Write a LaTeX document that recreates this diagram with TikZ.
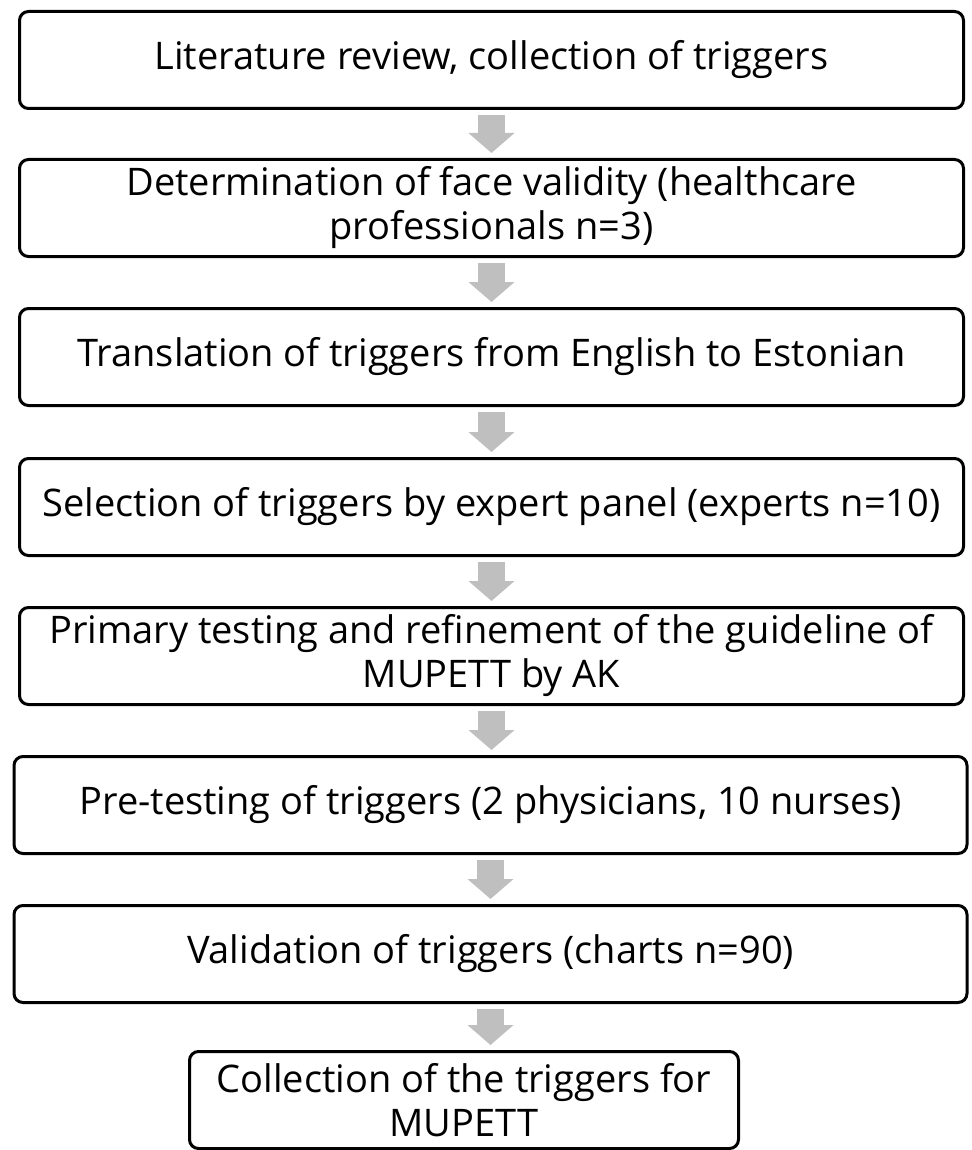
\documentclass[tikz,border=0pt]{standalone}
\usepackage{fontspec}
\setmainfont{Open Sans}
\usepackage{tikz}
\usetikzlibrary{arrows.meta}
\definecolor{flowgray}{RGB}{191,191,191}
\tikzstyle{stage}=[draw=black,line width=3pt,rounded corners=9pt,align=center,inner sep=0pt,minimum width=944pt,minimum height=97pt,font=\fontsize{38}{44}\selectfont]
\tikzstyle{flow}=[draw=flowgray,line width=27pt,-{Triangle[width=45pt,length=20pt]},shorten <=5pt,shorten >=5pt]

\begin{document}
\begin{tikzpicture}[x=1pt,y=-1pt]
      \useasboundingbox (0,0) rectangle (971,1150);
      \node[stage] at (491.5,60) (lit) {Literature review, collection of triggers};
      \node[stage] at (491.5,208) (face) {Determination of face validity (healthcare\\professionals n=3)};
      \node[stage] at (491.5,357) (transl) {Translation of triggers from English to Estonian};
      \node[stage] at (491.5,507) (panel) {Selection of triggers by expert panel (experts n=10)};
      \node[stage] at (491.5,656) (primary) {Primary testing and refinement of the guideline of\\MUPETT by AK};
      \node[stage,minimum width=953pt] at (490.5,805) (pretest) {Pre-testing of triggers (2 physicians, 10 nurses)};
      \node[stage,minimum width=953pt] at (490.5,954) (valid) {Validation of triggers (charts n=90)};
      \node[stage,minimum width=549pt] at (464,1100) (coll) {Collection of the triggers for\\MUPETT};
      \draw[flow] (lit.south)--(face.north);
      \draw[flow] (face.south)--(transl.north);
      \draw[flow] (transl.south)--(panel.north);
      \draw[flow] (panel.south)--(primary.north);
      \draw[flow] (primary.south)--(primary.south |- pretest.north);
      \draw[flow] (pretest.south)--(valid.north);
      \draw[flow] (valid.south)--(valid.south |- coll.north);
    \end{tikzpicture}
\end{document}
